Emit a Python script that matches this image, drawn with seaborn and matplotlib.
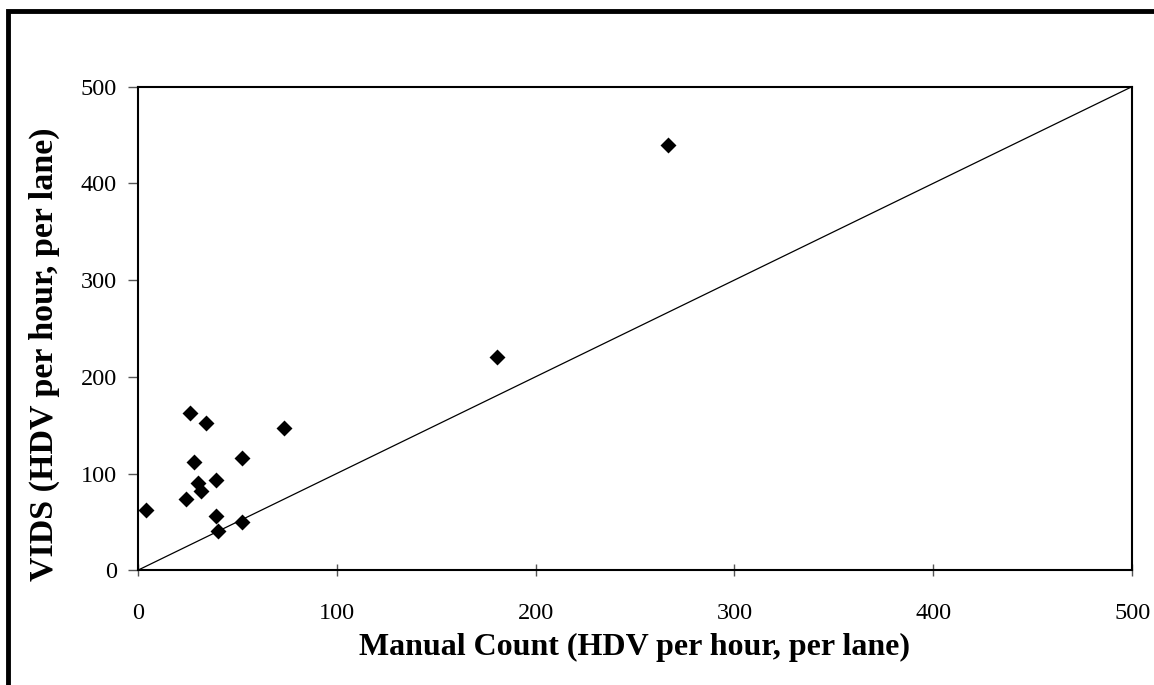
import matplotlib
matplotlib.use("Agg")
import matplotlib.pyplot as plt
import seaborn as sns
import pandas as pd
from matplotlib.patches import Rectangle

manual = [4.0, 26.4, 34.4, 73.4, 28.2, 52.4, 30.4, 31.6, 39.3, 24.2, 39.3, 40.3, 52.4, 266.4, 180.7]
vids = [62, 163, 152, 147, 112, 116, 90, 82, 93, 74, 56, 41, 50, 440, 220]
ref_x = [0, 500]
ref_y = [0, 500]
ticks = [0, 100, 200, 300, 400, 500]

sns.set_theme(style="white")
plt.rcParams['font.family'] = ['Liberation Serif', 'DejaVu Serif']
plt.rcParams['text.color'] = 'black'
plt.rcParams['axes.labelcolor'] = 'black'

fig = plt.figure(figsize=(11.54, 6.85), dpi=100)
ax = fig.add_axes([0.1193, 0.1674, 0.8619, 0.7063])

df = pd.DataFrame({"x": manual, "y": vids})
sns.lineplot(x=ref_x, y=ref_y, ax=ax, color="black", linewidth=0.9)
sns.scatterplot(data=df, x="x", y="y", ax=ax, marker="D", s=66, color="black",
                linewidth=0, zorder=3)

ax.set_xlim(0, 500)
ax.set_ylim(0, 500)
ax.set_xticks(ticks)
ax.set_yticks(ticks)
ax.set_xticklabels([str(t) for t in ticks])
ax.set_yticklabels([str(t) for t in ticks])
ax.tick_params(axis="x", direction="inout", length=9, width=1, color="#555555",
               labelsize=17.5, pad=19, bottom=True, labelcolor="black")
ax.tick_params(axis="y", direction="out", length=7, width=1, color="#555555",
               labelsize=17.5, pad=8, left=True, labelcolor="black")
for s in ax.spines.values():
    s.set_visible(True)
    s.set_color("black")
    s.set_linewidth(1.5)

ax.set_xlabel("Manual Count (HDV per hour, per lane)", fontsize=23, fontweight="bold", va="center")
ax.set_ylabel("VIDS (HDV per hour, per lane)", fontsize=24.5, fontweight="bold", va="center")
ax.xaxis.set_label_coords(0.5, -0.160)
ax.yaxis.set_label_coords(-0.094, 0.447)

fig.patches.append(Rectangle((8 / 1154, -0.1), 1.2, 1 - 11 / 685 + 0.1, transform=fig.transFigure,
                             fill=False, edgecolor="black", linewidth=3.5, zorder=10))

fig.savefig("out.png", dpi=100, facecolor="white")
